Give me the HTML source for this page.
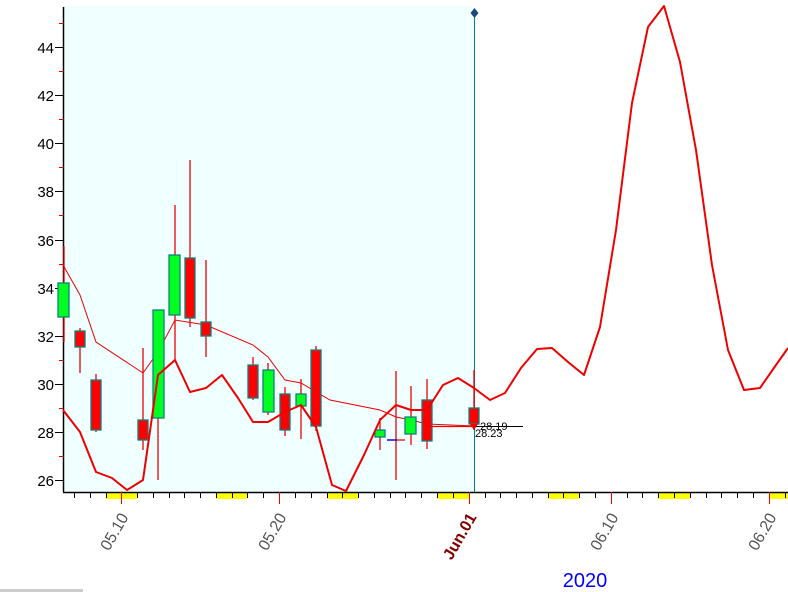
<!DOCTYPE html>
<html><head><meta charset="utf-8"><style>
html,body{margin:0;padding:0;background:#fff;}
svg{display:block;font-family:"Liberation Sans",sans-serif;}
</style></head><body>
<svg width="788" height="592" viewBox="0 0 788 592" xmlns="http://www.w3.org/2000/svg">
<rect x="63" y="6" width="411" height="486" fill="#f0ffff"/>
<g fill="#ffff00">
<rect x="106" y="492" width="31" height="7"/><rect x="216" y="492" width="31" height="7"/>
<rect x="327" y="492" width="31" height="7"/><rect x="437" y="492" width="32" height="7"/>
<rect x="548" y="492" width="31" height="7"/><rect x="658" y="492" width="32" height="7"/>
<rect x="770" y="492" width="18" height="7"/>
</g>
<line x1="63.5" y1="7" x2="63.5" y2="492" stroke="#000" stroke-width="1.5"/>
<line x1="63" y1="492.5" x2="788" y2="492.5" stroke="#000" stroke-width="1.5"/>
<g stroke="#000" stroke-width="1">
<line x1="55" y1="47.5" x2="63" y2="47.5"/><line x1="55" y1="95.5" x2="63" y2="95.5"/>
<line x1="55" y1="143.5" x2="63" y2="143.5"/><line x1="55" y1="191.5" x2="63" y2="191.5"/>
<line x1="55" y1="240.5" x2="63" y2="240.5"/><line x1="55" y1="288.5" x2="63" y2="288.5"/>
<line x1="55" y1="336.5" x2="63" y2="336.5"/><line x1="55" y1="384.5" x2="63" y2="384.5"/>
<line x1="55" y1="432.5" x2="63" y2="432.5"/><line x1="55" y1="480.5" x2="63" y2="480.5"/>
</g>
<g stroke="#e00" stroke-width="1">
<line x1="59" y1="23.5" x2="63" y2="23.5"/><line x1="59" y1="71.5" x2="63" y2="71.5"/>
<line x1="59" y1="119.5" x2="63" y2="119.5"/><line x1="59" y1="167.5" x2="63" y2="167.5"/>
<line x1="59" y1="215.5" x2="63" y2="215.5"/><line x1="59" y1="264.5" x2="63" y2="264.5"/>
<line x1="59" y1="312.5" x2="63" y2="312.5"/><line x1="59" y1="360.5" x2="63" y2="360.5"/>
<line x1="59" y1="408.5" x2="63" y2="408.5"/><line x1="59" y1="456.5" x2="63" y2="456.5"/>
</g>
<g font-size="15" fill="#000" text-anchor="end">
<text x="54" y="53">44</text><text x="54" y="101">42</text><text x="54" y="149">40</text>
<text x="54" y="197">38</text><text x="54" y="246">36</text><text x="54" y="294">34</text>
<text x="54" y="342">32</text><text x="54" y="390">30</text><text x="54" y="438">28</text>
<text x="54" y="486">26</text>
</g>
<g stroke="#000">
<path d="M74.5 492v6M90.5 492v6M106.5 492v6M137.5 492v6M153.5 492v6M169.5 492v6M184.5 492v6M200.5 492v6M216.5 492v6M232.5 492v6M247.5 492v6M263.5 492v6M295.5 492v6M311.5 492v6M327.5 492v6M342.5 492v6M358.5 492v6M374.5 492v6M390.5 492v6M405.5 492v6M421.5 492v6M437.5 492v6M453.5 492v6M485.5 492v6M500.5 492v6M516.5 492v6M532.5 492v6M548.5 492v6M563.5 492v6M579.5 492v6M595.5 492v6M627.5 492v6M642.5 492v6M658.5 492v6M674.5 492v6M690.5 492v6M706.5 492v6M721.5 492v6M737.5 492v6M753.5 492v6M785.5 492v6"/>
</g>
<g stroke="#e00"><path d="M121.5 492v12M279.5 492v12M469.5 492v12M611.5 492v12M769.5 492v12"/></g>
<g font-size="16" fill="#555">
<text transform="translate(129,517) rotate(-60)" text-anchor="end">05.10</text>
<text transform="translate(287,517) rotate(-60)" text-anchor="end">05.20</text>
<text transform="translate(619,517) rotate(-60)" text-anchor="end">06.10</text>
<text transform="translate(777,517) rotate(-60)" text-anchor="end">06.20</text>
</g>
<text transform="translate(477,517) rotate(-60)" text-anchor="end" font-size="16" font-weight="bold" fill="#800000">Jun.01</text>
<text x="585" y="587" font-size="20" fill="#0000ff" text-anchor="middle">2020</text>
<rect x="0" y="589" width="83" height="3" fill="#ccc"/>
<line x1="474.5" y1="13" x2="474.5" y2="492" stroke="#008080" stroke-width="1"/>
<path d="M474.5 8 L478.5 13 L474.5 18 L470.5 13Z" fill="#1a4a80"/>
<polyline fill="none" stroke="#e00" stroke-width="1" points="63,265 80,295 96,342 143,373 158,352 175,320 206,325 253,345 268,357 285,380 301,383 330,400 380,410 396,417 411,420 427,424 474,426"/>
<g stroke="#e00" stroke-width="1.3">
<line x1="64" y1="246" x2="64" y2="342"/>
<line x1="80" y1="328" x2="80" y2="373"/>
<line x1="96" y1="374" x2="96" y2="432"/>
<line x1="143" y1="348" x2="143" y2="450"/>
<line x1="158" y1="345" x2="158" y2="480"/>
<line x1="175" y1="205" x2="175" y2="360"/>
<line x1="190" y1="160" x2="190" y2="327"/>
<line x1="206" y1="260" x2="206" y2="357"/>
<line x1="253" y1="357" x2="253" y2="400"/>
<line x1="268" y1="363" x2="268" y2="415"/>
<line x1="285" y1="387" x2="285" y2="436"/>
<line x1="301" y1="379" x2="301" y2="439"/>
<line x1="316" y1="346" x2="316" y2="431"/>
<line x1="380" y1="418" x2="380" y2="450"/>
<line x1="396" y1="371" x2="396" y2="480"/>
<line x1="411" y1="386" x2="411" y2="445"/>
<line x1="427" y1="379" x2="427" y2="449"/>
<line x1="474" y1="370" x2="474" y2="430"/>
<line x1="387" y1="440" x2="405" y2="440"/>
</g>
<line x1="387" y1="440" x2="397" y2="440" stroke="#00f" stroke-width="1.3"/>
<g stroke="#108080" stroke-width="1.3">
<rect x="58" y="283" width="11" height="34" fill="#00ff20"/>
<rect x="75" y="331" width="10" height="16" fill="#f00"/>
<rect x="91" y="380" width="10" height="50" fill="#f00"/>
<rect x="138" y="420" width="10" height="20" fill="#f00"/>
<rect x="153" y="310" width="11" height="108" fill="#00ff20"/>
<rect x="169" y="255" width="11" height="60" fill="#00ff20"/>
<rect x="185" y="258" width="10" height="60" fill="#f00"/>
<rect x="201" y="322" width="10" height="14" fill="#f00"/>
<rect x="248" y="365" width="10" height="33" fill="#f00"/>
<rect x="263" y="370" width="11" height="42" fill="#00ff20"/>
<rect x="280" y="394" width="10" height="36" fill="#f00"/>
<rect x="296" y="394" width="10" height="12" fill="#00ff20"/>
<rect x="311" y="350" width="10" height="76" fill="#f00"/>
<rect x="375" y="430" width="10" height="7" fill="#00ff20"/>
<rect x="405" y="417" width="11" height="17" fill="#00ff20"/>
<rect x="422" y="400" width="10" height="41" fill="#f00"/>
<rect x="469" y="408" width="10" height="16" fill="#f00"/>
</g>
<line x1="427" y1="426.5" x2="474" y2="426.5" stroke="#e00" stroke-width="1.3"/>
<line x1="474" y1="426.5" x2="523" y2="426.5" stroke="#000" stroke-width="1"/>
<path d="M470 424 L478 424 L474 430Z" fill="#e00"/>
<text x="480" y="430" font-size="11" fill="#000">28.19</text>
<text x="475" y="437" font-size="11" fill="#000">28.23</text>
<polyline fill="none" stroke="#e00" stroke-width="2" stroke-linejoin="round" points="63,410 80,432 96,472 112,478 127,490 143,480 158,375 175,360 190,392 206,388 222,375 238,398 253,422 268,422 285,412 301,405 316,427 332,485 346,491 364,455 380,420 396,405 411,410 427,410 443,385 458,378 474,388 490,400 505,393 521,368 537,349 552,348 568,362 584,375 600,327 616,230 632,103 648,27 664,6 680,62 696,150 712,265 728,350 744,390 760,388 776,365 788,348"/>
</svg>
</body></html>
